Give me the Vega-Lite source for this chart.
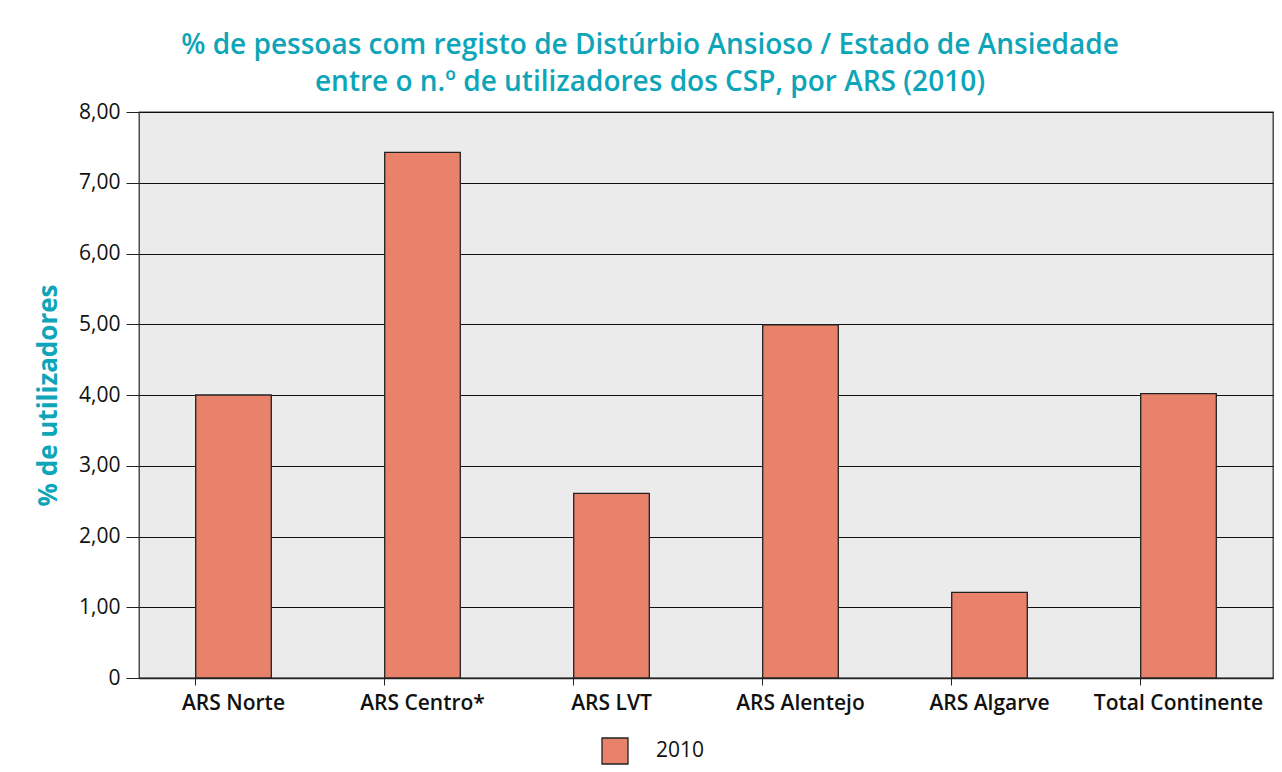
{
  "$schema": "https://vega.github.io/schema/vega-lite/v6.json",
  "width": 1134,
  "height": 566,
  "autosize": {"type": "none"},
  "padding": {"left": 139, "top": 112, "right": 9, "bottom": 94},
  "background": "white",
  "title": {
    "text": ["% de pessoas com registo de Distúrbio Ansioso / Estado de Ansiedade", "entre o n.º de utilizadores dos CSP, por ARS (2010)"],
    "font": "Open Sans",
    "fontSize": 28,
    "fontWeight": 600,
    "color": "#0ea5b8",
    "anchor": "middle",
    "frame": "group",
    "dx": -56,
    "offset": 4,
    "lineHeight": 37
  },
  "data": {
    "values": [
      {"ars": "ARS Norte", "ano": "2010", "valor": 4.00},
      {"ars": "ARS Centro*", "ano": "2010", "valor": 7.43},
      {"ars": "ARS LVT", "ano": "2010", "valor": 2.61},
      {"ars": "ARS Alentejo", "ano": "2010", "valor": 4.99},
      {"ars": "ARS Algarve", "ano": "2010", "valor": 1.21},
      {"ars": "Total Continente", "ano": "2010", "valor": 4.02}
    ]
  },
  "mark": {"type": "bar", "stroke": "#222222", "strokeWidth": 1.3},
  "encoding": {
    "x": {
      "field": "ars",
      "type": "nominal",
      "sort": null,
      "scale": {"paddingInner": 0.6, "paddingOuter": 0.3},
      "axis": {
        "title": null,
        "labelAngle": 0,
        "labelFont": "Open Sans",
        "labelFontSize": 21,
        "labelFontWeight": 600,
        "labelColor": "#111111",
        "labelPadding": 7,
        "bandPosition": 0,
        "tickSize": 7,
        "tickColor": "#222222",
        "domainColor": "#222222",
        "domainWidth": 1.3,
        "grid": false
      }
    },
    "y": {
      "field": "valor",
      "type": "quantitative",
      "scale": {"domain": [0, 8]},
      "axis": {
        "title": "% de utilizadores",
        "titleFont": "Open Sans",
        "titleFontSize": 26,
        "titleFontWeight": 700,
        "titleColor": "#0ea5b8",
        "titlePadding": 17,
        "values": [0, 1, 2, 3, 4, 5, 6, 7, 8],
        "labelExpr": "datum.value == 0 ? '0' : replace(format(datum.value, '.2f'), '.', ',')",
        "labelFont": "Open Sans",
        "labelFontSize": 21,
        "labelColor": "#111111",
        "labelPadding": 6,
        "tickSize": 13,
        "tickColor": "#222222",
        "domain": false,
        "grid": true,
        "gridColor": "#111111",
        "gridWidth": 1.2,
        "gridOpacity": 1
      }
    },
    "fill": {
      "field": "ano",
      "type": "nominal",
      "scale": {"range": ["#e8826a"]},
      "legend": {
        "title": null,
        "orient": "none",
        "legendX": 462,
        "legendY": 625,
        "symbolType": "square",
        "symbolSize": 676,
        "symbolStrokeColor": "#222222",
        "symbolStrokeWidth": 1.3,
        "symbolOpacity": 1,
        "labelFont": "Open Sans",
        "labelFontSize": 21,
        "labelColor": "#111111",
        "labelOffset": 27
      }
    }
  },
  "config": {
    "view": {"fill": "#ebebeb", "stroke": "#333333", "strokeWidth": 1.3}
  }
}
